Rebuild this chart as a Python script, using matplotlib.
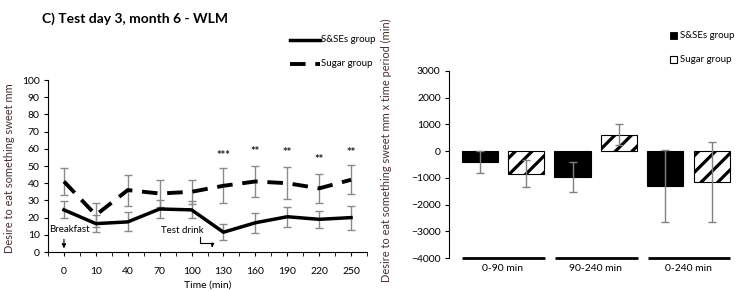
import matplotlib
matplotlib.use("Agg")
import matplotlib.pyplot as plt
import numpy as np
from matplotlib.patches import Rectangle

plt.rcParams['font.family'] = ['Lato', 'DejaVu Sans']
plt.rcParams['hatch.linewidth'] = 2.3

# ---- Left panel data ----
time_labels = ['0', '10', '40', '70', '100', '130', '160', '190', '220', '250']
sse_mean = [24.5, 16.5, 17.5, 25, 24.5, 11.5, 17, 20.5, 19, 20]
sse_err = [5, 5, 5.5, 5.5, 5, 4.7, 5.7, 5.7, 5, 7]
sugar_mean = [41, 21.5, 36, 34, 35, 38.5, 41, 40, 37, 42]
sugar_err = [8, 7, 9, 8, 7, 10.3, 8.8, 9.3, 8.3, 8.3]
stars = {5: '***', 6: '**', 7: '**', 8: '**', 9: '**'}
star_y = {5: 53, 6: 55, 7: 54.5, 8: 50.5, 9: 54.5}

# ---- Right panel data ----
periods = ['0-90 min', '90-240 min', '0-240 min']
auc_sse = [-400, -970, -1320]
auc_sse_err = [420, 560, 1350]
auc_sugar = [-850, 620, -1150]
auc_sugar_err = [500, 400, 1500]

W, H = 749, 291
fig = plt.figure(figsize=(W/100, H/100), dpi=100)

label_color = '#4a2e2e'

# ---------------- Left ----------------
ax = fig.add_axes([48/W, 1-252/H, (367-48)/W, (252-80)/H])
x = np.arange(len(time_labels))
ax.errorbar(x, sugar_mean, yerr=sugar_err, fmt='none', ecolor='#8a8a8a',
            elinewidth=1, capsize=3, zorder=2)
ax.errorbar(x, sse_mean, yerr=sse_err, fmt='none', ecolor='#8a8a8a',
            elinewidth=1, capsize=3, zorder=2)
ax.plot(x, sse_mean, color='black', lw=2.5, zorder=3, label='S&SEs group')
ax.plot(x, sugar_mean, color='black', lw=2.8, ls=(0, (4, 2.5)), zorder=3,
        label='Sugar group')
ax.set_xlim(-0.5, 9.5)
ax.set_ylim(0, 100)
ax.set_yticks(range(0, 101, 10))
ax.set_xticks(x)
ax.set_xticks(np.arange(-0.5, 9.6, 1), minor=True)
ax.set_xticklabels(time_labels)
ax.tick_params(axis='both', which='both', direction='out', length=3,
               labelsize=7.5, colors='black', pad=3)
ax.tick_params(axis='x', which='major', pad=8)
for s in ['top', 'right']:
    ax.spines[s].set_visible(False)
ax.spines['left'].set_linewidth(0.8)
ax.spines['bottom'].set_linewidth(0.8)
ax.set_xlabel('Time (min)', fontsize=7.5, labelpad=3)
ax.set_ylabel('Desire to eat something sweet mm', fontsize=7.9,
              color=label_color)
ax.yaxis.set_label_coords(-0.105, 0.49)
for k, s in stars.items():
    ax.text(k, star_y[k], s, ha='center', va='bottom', fontsize=8,
            fontweight='bold', color='#1a1a1a')
# annotations
ax.text(-0.45, 13, 'Breakfast', fontsize=7, ha='left', va='center')
ax.annotate('', xy=(0, 0.5), xytext=(0, 9),
            arrowprops=dict(arrowstyle='-|>', color='black', lw=0.8,
                            mutation_scale=6))
ax.text(3.7, 12.5, 'Test drink', fontsize=7, ha='center', va='center')
ax.plot([4.28, 4.28, 4.65], [8.5, 5, 5], color='black', lw=0.8)
ax.annotate('', xy=(4.65, 2.7), xytext=(4.65, 5.3),
            arrowprops=dict(arrowstyle='-|>', color='black', lw=0.8,
                            mutation_scale=5))

fig.text(42/W, 1-19/H, 'C) Test day 3, month 6 - WLM', fontsize=10,
         fontweight='bold', ha='left', va='center')

# legend (left)
lax = fig.add_axes([0, 0, 1, 1], facecolor='none')
lax.set_xlim(0, W); lax.set_ylim(H, 0); lax.axis('off')
lax.plot([290, 320], [40, 40], color='black', lw=2.5)
lax.plot([290, 320], [64, 64], color='black', lw=2.8, ls=(0, (4, 2.5)))
lax.text(321, 40, 'S&SEs group', fontsize=7, va='center', ha='left')
lax.text(321, 64, 'Sugar group', fontsize=7, va='center', ha='left')

# ---------------- Right ----------------
ax2 = fig.add_axes([449/W, 1-258/H, (735-449)/W, (258-71)/H])
g = np.arange(len(periods))
bw = 0.39
ax2.bar(g - 0.25, auc_sse, bw, color='black', edgecolor='black', lw=0.8,
        zorder=2)
ax2.bar(g + 0.25, auc_sugar, bw, color='white', edgecolor='black', lw=0.8,
        hatch='//', zorder=2)
ax2.errorbar(g - 0.25, auc_sse, yerr=auc_sse_err, fmt='none',
             ecolor='#808080', elinewidth=1, capsize=3, zorder=3)
ax2.errorbar(g + 0.25, auc_sugar, yerr=auc_sugar_err, fmt='none',
             ecolor='#808080', elinewidth=1, capsize=3, zorder=3)
ax2.set_xlim(-0.58, 2.5)
ax2.set_ylim(-4000, 3000)
ax2.set_yticks(range(-4000, 3001, 1000))
ax2.tick_params(axis='y', direction='out', length=3, labelsize=7.5, pad=3)
ax2.set_xticks([])
for s in ['top', 'right', 'bottom']:
    ax2.spines[s].set_visible(False)
ax2.spines['left'].set_linewidth(0.8)
for i, lab in enumerate(periods):
    ax2.plot([i - 0.44, i + 0.45], [-4000, -4000], color='black', lw=2,
             clip_on=False, solid_capstyle='butt')
    ax2.text(i, -4400, lab, ha='center', va='center', fontsize=7.5)
ax2.set_ylabel('Desire to eat something sweet mm x time period (min)',
               fontsize=7.9, color=label_color)
ax2.yaxis.set_label_coords(-0.2, 0.575)

# legend (right)
lax.add_patch(Rectangle((670, 32), 7, 7, facecolor='black',
                        edgecolor='black', lw=0.6))
lax.add_patch(Rectangle((670, 56), 7, 7, facecolor='white',
                        edgecolor='black', lw=0.8))
lax.text(680, 36, 'S&SEs group', fontsize=7, va='center', ha='left')
lax.text(680, 60, 'Sugar group', fontsize=7, va='center', ha='left')

fig.savefig('out.png', dpi=100)
